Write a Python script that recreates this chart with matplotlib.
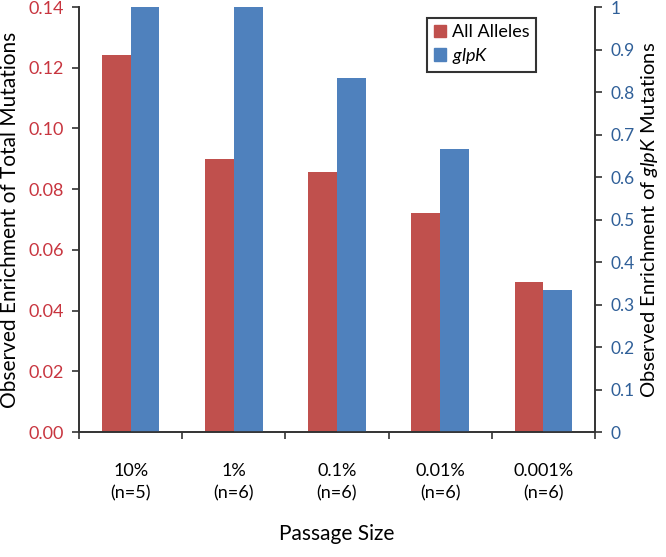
import matplotlib
matplotlib.use("Agg")
import matplotlib.pyplot as plt
import numpy as np

plt.rcParams['font.family'] = ['Lato', 'DejaVu Sans']
plt.rcParams['mathtext.fontset'] = 'custom'
plt.rcParams['mathtext.it'] = 'Lato:italic'
plt.rcParams['mathtext.rm'] = 'Lato'

passage = ["10%", "1%", "0.1%", "0.01%", "0.001%"]
n_counts = [5, 6, 6, 6, 6]
all_alleles = [0.1243, 0.0900, 0.0856, 0.0720, 0.0494]
glpk = [1.0, 1.0, 0.833, 0.667, 0.333]

red = '#C0504D'
blue = '#4F81BD'
red_txt = '#C8353F'
blue_txt = '#2F5F98'

fig = plt.figure(figsize=(6.66, 5.57), dpi=100)
ax = fig.add_axes([0.1186, 0.2244, 0.7748, 0.763])
ax2 = ax.twinx()

x = np.arange(len(passage))
w = 0.28
ax.bar(x - w / 2, all_alleles, w, color=red, zorder=2)
ax2.bar(x + w / 2, glpk, w, color=blue, zorder=2)

ax.set_xlim(-0.5, len(passage) - 0.5)
ax.set_ylim(0, 0.14)
ax2.set_ylim(0, 1)
ax.set_yticks(np.arange(0, 0.141, 0.02))
ax.set_yticklabels([f"{v:.2f}" for v in np.arange(0, 0.141, 0.02)])
ax2.set_yticks(np.arange(0, 1.01, 0.1))
ax2.set_yticklabels(["0"] + [f"{v:.1f}" for v in np.arange(0.1, 0.95, 0.1)] + ["1"])

ax.set_xticks(x)
ax.set_xticklabels([f"{p}\n(n={n})" for p, n in zip(passage, n_counts)], fontsize=13,
                   linespacing=1.55)
ax.set_xticks(np.arange(-0.5, len(passage), 1), minor=True)
ax.tick_params(axis='x', which='major', length=0, pad=22)
ax.tick_params(axis='x', which='minor', length=5, width=1.2, color='#333333')

ax.tick_params(axis='y', labelcolor=red_txt, labelsize=13, length=5, width=1.2,
               color='#333333', pad=6)
ax2.tick_params(axis='y', labelcolor=blue_txt, labelsize=12.5, length=5, width=1.2,
                color='#333333', pad=6)

for a in (ax, ax2):
    a.spines['top'].set_visible(False)
    for s in ('left', 'right', 'bottom'):
        a.spines[s].set_color('#333333')
        a.spines[s].set_linewidth(1.2)

ax.set_ylabel("Observed Enrichment of Total Mutations", fontsize=15, labelpad=6)
ax2.set_ylabel("Observed Enrichment of $\\mathit{glpK}$ Mutations", fontsize=14.5,
               labelpad=3)
ax.set_xlabel("Passage Size", fontsize=15, labelpad=16)

handles = [plt.Rectangle((0, 0), 1, 1, color=red), plt.Rectangle((0, 0), 1, 1, color=blue)]
leg = ax.legend(handles, ["All Alleles", "$\\mathit{glpK}$"], loc='upper right',
                bbox_to_anchor=(0.885, 0.974), borderaxespad=0, fontsize=13,
                frameon=True, fancybox=False, edgecolor='black', handlelength=0.7,
                handleheight=0.7, handletextpad=0.3, borderpad=0.35,
                labelspacing=0.3)
leg.get_frame().set_linewidth(1.5)
leg.set_zorder(5)

fig.savefig("out.png", dpi=100)
